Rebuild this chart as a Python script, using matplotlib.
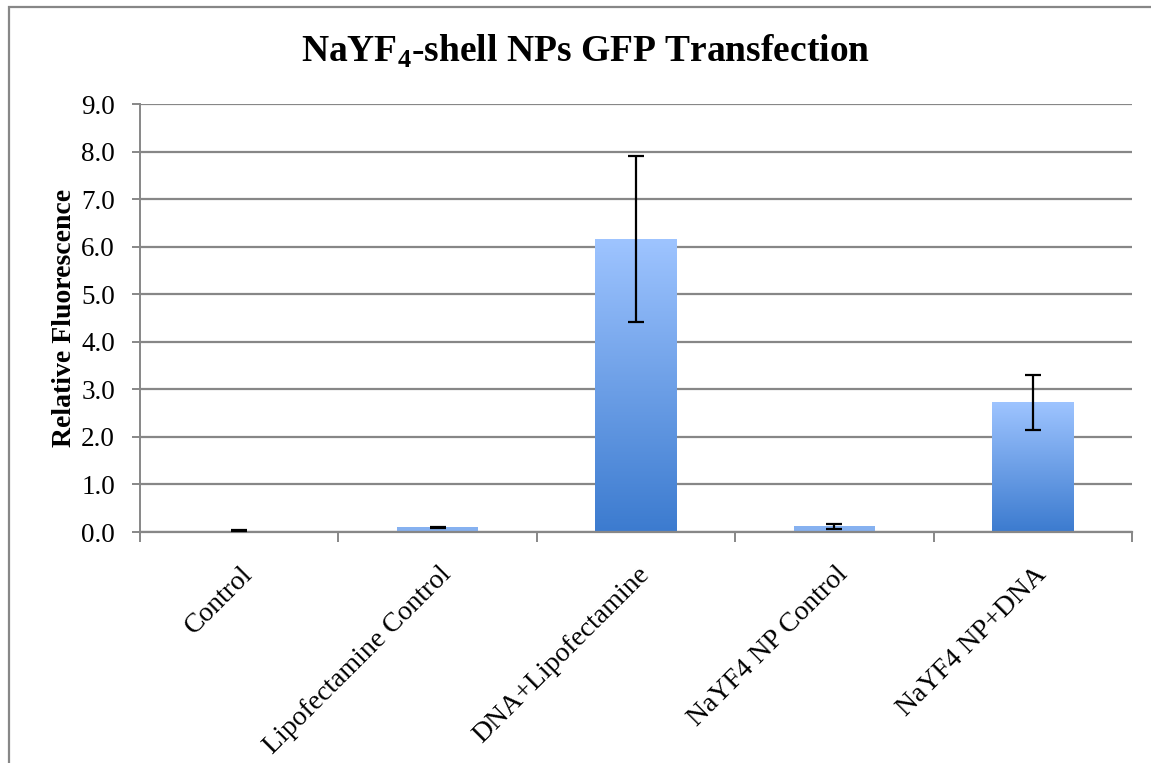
import numpy as np
import matplotlib
matplotlib.use("Agg")
from matplotlib import pyplot as plt
from matplotlib.patches import Rectangle
from matplotlib.colors import LinearSegmentedColormap

# values
categories = ["Control", "Lipofectamine Control", "DNA+Lipofectamine",
              "NaYF4 NP Control", "NaYF4 NP+DNA"]
means = [0.03, 0.10, 6.16, 0.12, 2.73]
errors = [0.005, 0.01, 1.75, 0.055, 0.58]
yticks = [0.0, 1.0, 2.0, 3.0, 4.0, 5.0, 6.0, 7.0, 8.0, 9.0]

plt.rcParams['font.family'] = ['Liberation Serif', 'DejaVu Serif']

W, H = 1151, 763
fig = plt.figure(figsize=(W / 100, H / 100), dpi=100)
ax = fig.add_axes([140 / W, 1 - 532 / H, (1132 - 140) / W, (532 - 104) / H])

grid_col = "#878787"
x = np.arange(len(categories))
bars = ax.bar(x, means, width=0.41, color="#8fb8f5", zorder=2)

# vertical gradient fill for each bar
grad = np.linspace(0, 1, 256).reshape(-1, 1)
cmap = LinearSegmentedColormap.from_list("blu", ["#3c7bcf", "#9ec4ff"])
for b in bars:
    x0, y0 = b.get_x(), b.get_y()
    w, h = b.get_width(), b.get_height()
    if h < 0.3:
        # tiny bars look nearly flat light blue in the original
        b.set_facecolor("#86b1f0")
        continue
    im = ax.imshow(grad, cmap=cmap, aspect="auto", origin="lower",
                   extent=[x0, x0 + w, y0, y0 + h], zorder=2.5)
    im.set_clip_path(b)
    b.set_facecolor("none")

ax.errorbar(x, means, yerr=errors, fmt="none", ecolor="black", elinewidth=1.6,
            capsize=5.5, capthick=1.6, zorder=4)

ax.set_xlim(-0.5, len(categories) - 0.5)
ax.set_ylim(0, 9)
ax.set_yticks(yticks)
ax.set_yticklabels(["%.1f" % v for v in yticks], fontsize=19.5)
ax.yaxis.grid(True, color=grid_col, linewidth=1.6, zorder=0)
ax.set_axisbelow(True)

ax.set_xticks(x + 0.05)
ax.set_xticklabels(categories, rotation=45, ha="right", va="center",
                   rotation_mode="anchor", fontsize=20)
ax.tick_params(axis="x", which="major", length=0, pad=28)
ax.set_xticks(np.arange(-0.5, len(categories)), minor=True)
ax.tick_params(axis="x", which="minor", length=7, width=1.4, color=grid_col, direction="out")
ax.tick_params(axis="y", length=6, width=1.4, color=grid_col, direction="out", pad=12)

for s in ["top", "right"]:
    ax.spines[s].set_visible(False)
ax.spines["left"].set_color(grid_col)
ax.spines["left"].set_linewidth(1.4)
ax.spines["bottom"].set_color(grid_col)
ax.spines["bottom"].set_linewidth(1.6)

ax.set_ylabel("Relative Fluorescence", fontsize=20, fontweight="bold")
ax.yaxis.set_label_coords(-0.064, 0.5)
fig.text(586 / W, 1 - 51 / H, "NaYF$_\\mathregular{4}$-shell NPs GFP Transfection",
         ha="center", va="center", fontsize=27, fontweight="bold")

# outer chart frame
fig.add_artist(Rectangle((8.5 / W, -0.1), 1.2, 1 - 6.5 / H + 0.1, transform=fig.transFigure,
                         fill=False, edgecolor=grid_col, linewidth=1.6))

fig.savefig("out.png", dpi=100)
